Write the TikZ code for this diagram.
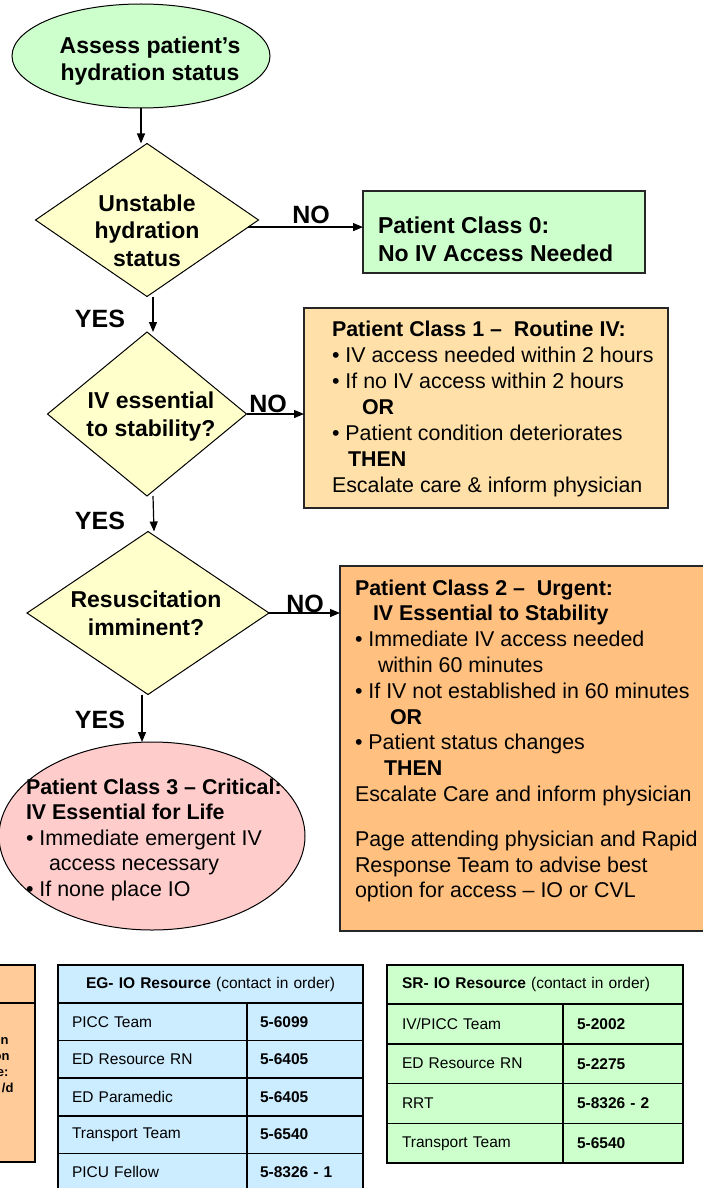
\documentclass[tikz,border=0pt]{standalone}
\usepackage{fontspec}
\setmainfont{Liberation Sans}
\usetikzlibrary{shapes.geometric,arrows.meta}

\definecolor{mint}{HTML}{CCFFCC}
\definecolor{paleyellow}{HTML}{FFFFCC}
\definecolor{sand}{HTML}{FFE0A8}
\definecolor{apricot}{HTML}{FFC080}
\definecolor{blush}{HTML}{FFCCCC}
\definecolor{skyblue}{HTML}{CCECFF}
\definecolor{peach}{HTML}{FFCC99}

\begin{document}
\begin{tikzpicture}[x=1pt,y=-1pt,
  every node/.style={inner sep=0pt, outer sep=0pt},
  arr/.style={-{Triangle[length=10pt,width=8pt]}, line width=1.2pt},
  outline/.style={draw=black, line width=1pt},
  decision/.style={outline, diamond, fill=paleyellow},
  terminal/.style={outline, ellipse},
  classbox/.style={draw=black!85, line width=1.3pt, rectangle},
  bigbold/.style={font=\fontsize{23}{27.5}\selectfont\bfseries},
  answer/.style={font=\fontsize{25}{30}\selectfont\bfseries, anchor=base},
  body/.style={font=\fontsize{21.4}{25.8}\selectfont, align=left, anchor=north west},
  cell/.style={draw=black, line width=1.6pt, rectangle,
    font=\fontsize{15.5}{18}\selectfont, align=left},
  egname/.style={cell, fill=skyblue, minimum height=37.6pt, text width=161pt, inner xsep=14pt},
  egnum/.style={cell, fill=skyblue, minimum height=37.6pt, text width=90pt, inner xsep=13pt},
  srname/.style={cell, fill=mint, minimum height=39.8pt, text width=146pt, inner xsep=15pt},
  srnum/.style={cell, fill=mint, minimum height=39.8pt, text width=92pt, inner xsep=14pt},
]
\clip (0,0) rectangle (703,1188);

% ---------- flow chart shapes ----------
\node[terminal, fill=mint, minimum width=258pt, minimum height=104pt] (start) at (141,56) {};
\node[bigbold, align=center, anchor=north, font=\fontsize{23}{27}\selectfont\bfseries]
  (starttext) at (150,34.3) {\strut Assess patient’s\\hydration status};

\node[decision, minimum width=223pt, minimum height=153pt] (d1) at (147,220) {};
\node[bigbold, align=center, anchor=north] (d1text) at (147,192) {\strut Unstable\\hydration\\status};

\node[classbox, fill=mint, minimum width=282pt, minimum height=82pt] (c0) at (504,232) {};
\node[font=\fontsize{23}{28}\selectfont\bfseries, align=left, anchor=north west]
  (c0text) at (378,213.4) {\strut Patient Class 0:\\No IV Access Needed};

\node[decision, minimum width=199pt, minimum height=164pt] (d2) at (147,414) {};
\node[bigbold, align=center, anchor=north, font=\fontsize{23}{28}\selectfont\bfseries]
  (d2text) at (151,388.4) {\strut IV essential\\to stability?};

\node[classbox, fill=sand, minimum width=364pt, minimum height=200pt] (c1) at (486,408) {};
\node[body, font=\fontsize{21.4}{26}\selectfont] (c1text) at (332,318.3) {\strut\textbf{Patient Class 1 --~ Routine IV:}\\
• IV access needed within 2 hours\\
• If no IV access within 2 hours\\
\hspace*{30pt}\textbf{OR}\\
• Patient condition deteriorates\\
\hspace*{16pt}\textbf{THEN}\\
Escalate care \& inform physician};

\node[decision, minimum width=242pt, minimum height=163pt] (d3) at (148,613) {};
\node[bigbold, align=center, anchor=north, font=\fontsize{23}{28}\selectfont\bfseries]
  (d3text) at (146,587.4) {\strut Resuscitation\\imminent?};

\node[classbox, fill=apricot, minimum width=390pt, minimum height=365pt] (c2) at (535,748.5) {};
\node[body] (c2text) at (355,577) {\strut\textbf{Patient Class 2 --~ Urgent:}\\
\hspace*{18pt}\textbf{IV Essential to Stability}\\
• Immediate IV access needed\\
\hspace*{23pt}within 60 minutes\\
• If IV not established in 60 minutes\\
\hspace*{35pt}\textbf{OR}\\
• Patient status changes\\
\hspace*{29pt}\textbf{THEN}\\
Escalate Care and inform physician\\[19pt]
Page attending physician and Rapid\\
Response Team to advise best\\
option for access -- IO or CVL};

\node[terminal, fill=blush, minimum width=306pt, minimum height=188pt] (c3) at (152,836) {};
\node[body, font=\fontsize{21.4}{25.5}\selectfont] (c3text) at (26,776.6) {\strut\textbf{Patient Class 3 -- Critical:}\\
\textbf{IV Essential for Life}\\
• Immediate emergent IV\\
\hspace*{23pt}access necessary\\
• If none place IO};

% ---------- connectors ----------
\draw[arr] (start.south) -- (start.south |- d1.north);
\draw[arr] (d1.-4) -- (d1.-4 -| c0.west);
\draw[arr] ([xshift=6pt]d1.south) -- ([xshift=6pt]d2.north);
\draw[arr] (d2.east) -- (d2.east -| c1.west);
\draw[arr] ([xshift=6pt]d2.south) -- ([xshift=6pt]d3.north);
\draw[arr] (d3.east) -- (d3.east -| c2.west);
\draw[arr] ([xshift=-6pt]d3.south) -- ([xshift=-6pt]d3.south |- c3.north);

\node[answer] (no1) at (311,223) {NO};
\node[answer] (yes1) at (100,327) {YES};
\node[answer] (no2) at (268,412) {NO};
\node[answer] (yes2) at (100,529) {YES};
\node[answer] (no3) at (305,612) {NO};
\node[answer] (yes3) at (100,728) {YES};

% ---------- resource tables ----------
% partly visible table at the left edge
\draw[draw=black, line width=1.6pt, fill=peach] (-20,965) rectangle (35,1162);
\draw[line width=1.6pt] (-20,1003) -- (35,1003);
\begin{scope}[every node/.style={font=\fontsize{13}{16}\selectfont\bfseries, anchor=base east}]
\node (frag1) at (12,1044) {n};
\node (frag2) at (13,1060) {on};
\node (frag3) at (12,1076) {e:};
\node (frag4) at (17,1092) {/d};
\end{scope}

% EG table
\node[cell, fill=skyblue, minimum height=38pt, text width=295pt, inner xsep=5pt, align=center]
  (eghead) at (210.5,984) {\textbf{EG- IO Resource} (contact in order)};
\node[egname] (eg1a) at (152.5,1021.8) {PICC Team};
\node[egnum]  (eg1b) at (305,1021.8) {\textbf{5-6099}};
\node[egname] (eg2a) at (152.5,1059.4) {ED Resource RN};
\node[egnum]  (eg2b) at (305,1059.4) {\textbf{5-6405}};
\node[egname] (eg3a) at (152.5,1097) {ED Paramedic};
\node[egnum]  (eg3b) at (305,1097) {\textbf{5-6405}};
\node[egname] (eg4a) at (152.5,1134.6) {Transport Team};
\node[egnum]  (eg4b) at (305,1134.6) {\textbf{5-6540}};
\node[egname] (eg5a) at (152.5,1172.2) {PICU Fellow};
\node[egnum]  (eg5b) at (305,1172.2) {\textbf{5-8326 - 1}};

% SR table
\node[cell, fill=mint, minimum height=39pt, text width=266pt, inner xsep=15pt]
  (srhead) at (535,984.5) {\textbf{SR- IO Resource} (contact in order)};
\node[srname] (sr1a) at (475,1023.9) {IV/PICC Team};
\node[srnum]  (sr1b) at (623,1023.9) {\textbf{5-2002}};
\node[srname] (sr2a) at (475,1063.7) {ED Resource RN};
\node[srnum]  (sr2b) at (623,1063.7) {\textbf{5-2275}};
\node[srname] (sr3a) at (475,1103.5) {RRT};
\node[srnum]  (sr3b) at (623,1103.5) {\textbf{5-8326 - 2}};
\node[srname] (sr4a) at (475,1143.3) {Transport Team};
\node[srnum]  (sr4b) at (623,1143.3) {\textbf{5-6540}};
\end{tikzpicture}
\end{document}
